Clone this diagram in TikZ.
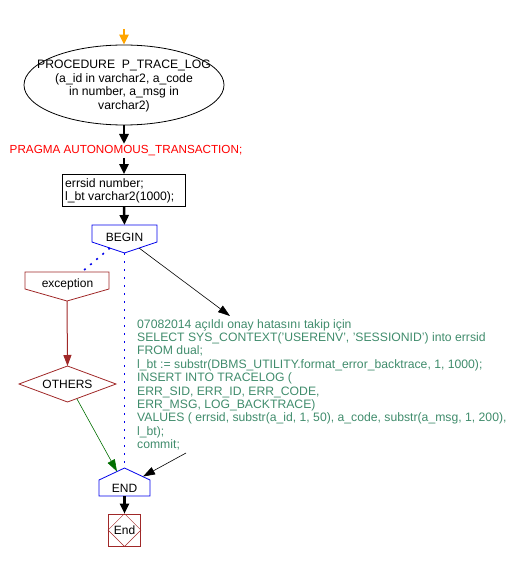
\documentclass[tikz,border=0pt]{standalone}
\usepackage{fontspec}
\setmainfont{Liberation Sans}
\usetikzlibrary{arrows.meta,shapes.geometric}
\definecolor{codegreen}{RGB}{64,140,108}
\definecolor{dred}{RGB}{160,40,40}
\definecolor{bblue}{RGB}{0,0,235}
\definecolor{orng}{RGB}{255,165,0}
\definecolor{dgreen}{RGB}{0,110,0}
\begin{document}
\begin{tikzpicture}[x=1pt,y=-1pt,
  thickarr/.style={-{Triangle[width=9pt,length=10pt]}, line width=2.5pt},
  thinarr/.style={-{Triangle[width=8pt,length=12pt]}, line width=0.6pt},
  shp/.style={line width=0.8pt},
  lbl/.style={font=\fontsize{12}{13.7}\selectfont, align=center, inner sep=0pt},
  dotline/.style={bblue, line width=1.6pt, dash pattern=on 2pt off 6pt}
]
\useasboundingbox (0,0) rectangle (520,561);

% procedure ellipse
\node[draw, ellipse, shp, minimum width=200pt, minimum height=80pt, inner sep=0pt] (proc) at (124,85) {};
\node[lbl, font=\fontsize{12.2}{13.7}\selectfont] (proctext) at (124,86) {PROCEDURE\ \ P\_TRACE\_LOG\\(a\_id in varchar2, a\_code\\in number, a\_msg in\\varchar2)};
\coordinate (start) at (124,29);
\draw[thickarr, orng] (start) -- (proc.north);

% pragma
\node[lbl, text=red, font=\fontsize{11.7}{13}\selectfont] (pragma) at (126,151) {PRAGMA AUTONOMOUS\_TRANSACTION;};
\coordinate (pragmaN) at (124,144);
\coordinate (pragmaS) at (124,158);
\draw[thickarr] (proc.south) -- (pragmaN);

% declarations box
\node[draw, shp, minimum width=123pt, minimum height=32pt, inner sep=0pt] (decl) at (124,190.5) {};
\node[font=\fontsize{12.2}{12.5}\selectfont, align=left, anchor=west, inner sep=0pt] (decltext) at (65,191) {errsid number;\\l\_bt varchar2(1000);};
\draw[thickarr] (pragmaS) -- (decl.north);

% BEGIN
\coordinate (beginN) at (124.5,225);
\coordinate (beginS) at (124.5,253);
\coordinate (beginL) at (110,248);
\coordinate (beginR) at (139,248);
\draw[bblue, shp] (92,225) -- (157,225) -- (157,242) -- (beginS) -- (92,242) -- cycle;
\node[lbl] (begintext) at (124.5,237.5) {BEGIN};
\draw[thickarr] (decl.south) -- (beginN);

% exception
\coordinate (excN) at (83,271);
\coordinate (excS) at (67,301);
\draw[dred, shp] (25,272) -- (109,272) -- (109,289) -- (excS) -- (25,289) -- cycle;
\node[lbl] (exctext) at (67.5,284) {exception};
\draw[dotline] (beginL) -- (excN);

% OTHERS
\coordinate (othN) at (67.5,366);
\coordinate (othSE) at (77,399);
\draw[dred, shp] (19,384) -- (othN) -- (116,384) -- (67.5,402) -- cycle;
\node[lbl] (othtext) at (67.5,384) {OTHERS};
\draw[dred, -{Triangle[width=8pt,length=11pt]}, line width=1pt] (excS) -- (othN);

% code text
\node[font=\fontsize{12.2}{13.4}\selectfont, text=codegreen, align=left, anchor=north west, inner sep=0pt] (code) at (137,319)
{07082014 açıldı onay hatasını takip için\\
SELECT SYS\_CONTEXT('USERENV', 'SESSIONID') into errsid\\
FROM dual;\\
l\_bt := substr(DBMS\_UTILITY.format\_error\_backtrace, 1, 1000);\\
INSERT INTO TRACELOG (\\
ERR\_SID, ERR\_ID, ERR\_CODE,\\
ERR\_MSG, LOG\_BACKTRACE)\\
VALUES ( errsid, substr(a\_id, 1, 50), a\_code, substr(a\_msg, 1, 200),\\
l\_bt);\\
commit;};
\coordinate (codeIn) at (230,316);
\coordinate (codeOut) at (186,453);
\draw[thinarr] (beginR) -- (codeIn);

% END
\coordinate (endN) at (124.5,468);
\coordinate (endNW) at (117,471.5);
\coordinate (endNE) at (143,476.5);
\coordinate (endS) at (124.5,496);
\draw[bblue, shp] (99,480) -- (endN) -- (150,480) -- (150,496) -- (99,496) -- cycle;
\node[lbl] (endtext) at (124.5,488) {END};
\draw[dotline] (beginS) -- (endN);
\draw[dgreen, thinarr] (othSE) -- (endNW);
\draw[thinarr] (codeOut) -- (endNE);

% terminal End
\node[draw=dred, shp, minimum width=32pt, minimum height=32pt, inner sep=0pt] (term) at (124.5,530) {};
\draw[dred, line width=0.5pt] (term.west) -- (term.north) -- (term.east) -- (term.south) -- cycle;
\node[lbl] (termtext) at (124.5,530.5) {End};
\draw[thickarr] (endS) -- (term.north);
\end{tikzpicture}
\end{document}
